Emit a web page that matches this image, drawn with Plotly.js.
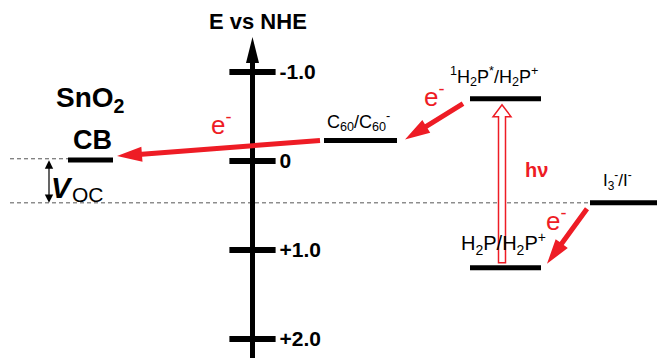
<!DOCTYPE html>
<html><head><meta charset="utf-8">
<script src="https://cdn.plot.ly/plotly-3.0.1.min.js"></script>
<style>html,body{margin:0;padding:0;background:#fff}#chart{width:657px;height:358px}</style>
</head><body><div id="chart"></div>
<script>
// ---------- data ----------
const levelNames  = ['CB', 'C60', 'H2Pstar', 'I3', 'H2P'];
const levelLabels = ['CB',
  'C<sub>60</sub>/C<sub>60</sub><sup>-</sup>',
  '<sup>1</sup>H<sub>2</sub>P<sup>*</sup>/H<sub>2</sub>P<sup>+</sup>',
  'I<sub>3</sub><sup>-</sup>/I<sup>-</sup>',
  'H<sub>2</sub>P/H<sub>2</sub>P<sup>+</sup>'];
const levelE      = [-0.01, -0.23, -0.70, 0.47, 1.20];   // V vs NHE
const tickVals    = [-1, 0, 1, 2];
const tickText    = ['-1.0', '0', '+1.0', '+2.0'];
// electron transfers (from level -> to level)
const transferFrom = ['C60', 'H2Pstar', 'I3'];
const transferTo   = ['CB',  'C60',     'H2P'];

// ---------- layout constants (pixels) ----------
const W = 657, H = 358, AXIS_X = 252.5, ZERO_PX = 161, PX_PER_V = 89;
const levelX0 = {CB: 68, C60: 324, H2Pstar: 470, I3: 590, H2P: 470};
const levelX1 = {CB: 113, C60: 397, H2Pstar: 541, I3: 660, H2P: 541};
const RED = '#ee1c25';
const FONT = 'Liberation Sans, Arial, sans-serif';

const E = {}; levelNames.forEach((n, i) => E[n] = levelE[i]);
const toPy = e => ZERO_PX + e * PX_PER_V;      // energy -> pixel y
const toE  = py => (py - ZERO_PX) / PX_PER_V;  // pixel y -> energy

// arrow polygon computed in pixel space, returned in data coords
function arrowPath(x0, py0, x1, py1, shaftW, headL, headW) {
  const dx = x1 - x0, dy = py1 - py0, len = Math.hypot(dx, dy);
  const ux = dx / len, uy = dy / len, nx = -uy, ny = ux;
  const bx = x1 - ux * headL, by = py1 - uy * headL;
  const pts = [
    [x0 + nx * shaftW / 2, py0 + ny * shaftW / 2],
    [bx + nx * shaftW / 2, by + ny * shaftW / 2],
    [bx + nx * headW / 2, by + ny * headW / 2],
    [x1, py1],
    [bx - nx * headW / 2, by - ny * headW / 2],
    [bx - nx * shaftW / 2, by - ny * shaftW / 2],
    [x0 - nx * shaftW / 2, py0 - ny * shaftW / 2]
  ];
  return 'M' + pts.map(p => p[0].toFixed(2) + ',' + toE(p[1]).toFixed(4)).join('L') + 'Z';
}

const traces = [];
// energy levels
levelNames.forEach(n => {
  traces.push({x: [levelX0[n], levelX1[n]], y: [E[n], E[n]], mode: 'lines',
    line: {color: '#000', width: 5}, hoverinfo: 'skip', showlegend: false});
});
// dashed reference lines (CB level and redox level)
traces.push({x: [10, levelX0.CB], y: [E.CB - 0.015, E.CB - 0.015], mode: 'lines',
  line: {color: '#555', width: 1, dash: '4px,3px'}, hoverinfo: 'skip', showlegend: false});
traces.push({x: [10, levelX0.I3], y: [E.I3, E.I3], mode: 'lines',
  line: {color: '#555', width: 1, dash: '4px,3px'}, hoverinfo: 'skip', showlegend: false});
// axis tick marks
traces.push({x: tickVals.map(() => AXIS_X), y: tickVals, mode: 'markers',
  marker: {symbol: 'line-ew', size: 33, line: {color: '#000', width: 6}},
  hoverinfo: 'skip', showlegend: false});

const shapes = [];
// main vertical axis with arrow
shapes.push({type: 'path', xref: 'x', yref: 'y', fillcolor: '#000', line: {width: 0},
  path: arrowPath(AXIS_X, H + 5, AXIS_X, 37, 5, 26, 13)});
// electron transfer arrows
const tailOff = {C60: [-4, 0], H2Pstar: [-7, 5], I3: [-3, 6]};
const tipOff  = {CB: [4, -4], C60: [8, -1], H2P: [6, -4]};
transferFrom.forEach((f, i) => {
  const t = transferTo[i];
  const x0 = levelX0[f] + tailOff[f][0], py0 = toPy(E[f]) + tailOff[f][1];
  const x1 = levelX1[t] + tipOff[t][0],  py1 = toPy(E[t]) + tipOff[t][1];
  shapes.push({type: 'path', xref: 'x', yref: 'y', fillcolor: RED, line: {width: 0},
    path: arrowPath(x0, py0, x1, py1, 5, 25, 15)});
});
// photo-excitation (hollow) arrow
shapes.push({type: 'path', xref: 'x', yref: 'y', fillcolor: '#fff', line: {color: RED, width: 1.5},
  path: arrowPath(502, toPy(E.H2P) - 5, 502, toPy(E.H2Pstar) + 6, 7, 12, 18)});

function ann(text, px, py, size, opts) {
  return Object.assign({text: text, xref: 'paper', yref: 'paper', x: px / W, y: 1 - py / H,
    xanchor: 'center', yanchor: 'middle', showarrow: false,
    font: {family: FONT, size: size, color: '#000'}}, opts || {});
}
const annotations = [
  ann('<b>E vs NHE</b>', 258, 22, 22),
  ann('<b>SnO<sub>2</sub></b>', 90, 99, 28),
  ann('<b>CB</b>', 92.5, 140, 27),
  ann('<b><i>V</i></b>', 62, 188, 29),
  ann('OC', 88, 194, 21),
  ann(levelLabels[1], 358, 122, 18),
  ann(levelLabels[2], 494, 76, 18),
  ann(levelLabels[4], 503, 244, 20),
  ann(levelLabels[3], 617, 180, 17),
  ann('e<sup>-</sup>', 221, 124, 26, {font: {family: FONT, size: 26, color: RED}}),
  ann('e<sup>-</sup>', 434, 96, 26, {font: {family: FONT, size: 26, color: RED}}),
  ann('e<sup>-</sup>', 556, 219, 26, {font: {family: FONT, size: 26, color: RED}}),
  ann('<b>hν</b>', 536, 170, 20, {font: {family: FONT, size: 20, color: RED}}),
  // V_OC double arrow between CB level and redox level
  {xref: 'x', yref: 'y', axref: 'x', ayref: 'y', x: 49, y: E.I3, ax: 49, ay: E.CB - 0.015,
   text: '', showarrow: true, arrowhead: 2, arrowside: 'end+start', arrowsize: 1.4,
   arrowwidth: 1.2, arrowcolor: '#000', standoff: 0, startstandoff: 0}
];

const layout = {
  width: W, height: H, margin: {l: 0, r: 0, t: 0, b: 0},
  paper_bgcolor: '#fff', plot_bgcolor: '#fff',
  xaxis: {range: [0, W], visible: false, fixedrange: true},
  yaxis: {range: [(H - ZERO_PX) / PX_PER_V, -ZERO_PX / PX_PER_V], anchor: 'free',
    position: AXIS_X / W, side: 'right', showline: false, showgrid: false, zeroline: false,
    ticks: '', tickvals: tickVals, ticktext: tickText, ticklabelstandoff: 26,
    tickfont: {family: FONT, size: 21, color: '#000', weight: 'bold'}, fixedrange: true},
  shapes: shapes, annotations: annotations, showlegend: false
};
Plotly.newPlot('chart', traces, layout, {staticPlot: true, displayModeBar: false});
</script></body></html>
